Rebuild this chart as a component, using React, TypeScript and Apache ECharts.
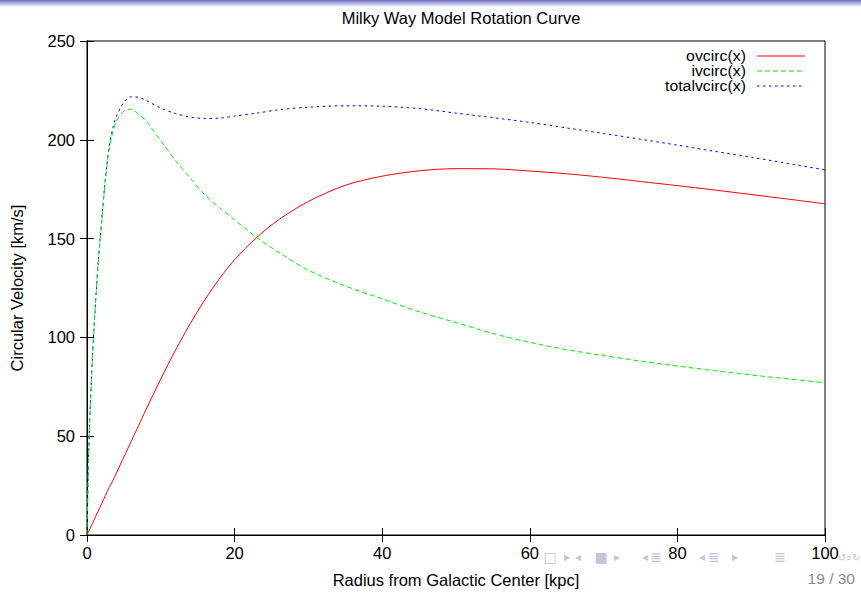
import React, { useEffect, useRef } from "react";
import * as echarts from "echarts";

const chartTitle = "Milky Way Model Rotation Curve";
const xAxisName = "Radius from Galactic Center [kpc]";
const yAxisName = "Circular Velocity [km/s]";
const seriesNames = ["ovcirc(x)", "ivcirc(x)", "totalvcirc(x)"];
const pageLabel = "19 / 30";

const radius = [0, 0.25, 0.5, 0.75, 1, 1.25, 1.5, 2, 2.5, 3, 3.5, 4, 5, 6, 7, 8, 10, 12, 14, 16, 18, 20, 23, 26, 30, 35, 40, 45, 50, 55, 60, 65, 70, 75, 80, 85, 90, 95, 100];
const ovcirc = [0, 2, 4, 6, 8, 10, 12, 16, 20, 24, 27.5, 31.5, 39.5, 47.5, 55.5, 63.5, 79, 93.6, 107, 119.2, 130, 139.3, 150.6, 159.6, 168.8, 177, 181.6, 184.3, 185.4, 185.3, 184.2, 182.8, 181, 178.9, 176.8, 174.6, 172.3, 170, 167.6];
const ivcirc = [0, 45, 70, 91, 108, 123, 137, 159, 180, 195, 204, 209.5, 214.5, 215.5, 213, 209.5, 199.5, 189.5, 180.5, 172, 165.5, 159.5, 150.5, 143, 134, 126, 119.5, 113, 107.5, 102, 97.5, 93.8, 90.8, 88, 85.5, 83.2, 81, 79, 77];
const totalvcirc = [0, 45, 70, 91, 108, 123, 137, 159.5, 181, 196.5, 206, 212, 219, 221.8, 221.5, 220, 216, 213.3, 211.5, 210.8, 211, 212, 213.5, 215.2, 216.5, 217.2, 217, 215.8, 213.5, 211.2, 208.8, 206, 203.2, 200.3, 197.3, 194.2, 191.2, 188, 184.8];

const navSymbols = [
  { t: "\u25A1", x: 550, s: 14 },
  { t: "\u25B8", x: 567, s: 12 },
  { t: "\u25C2", x: 578, s: 12 },
  { t: "\u25A0", x: 601, s: 14 },
  { t: "\u25B8", x: 617, s: 12 },
  { t: "\u25C2", x: 645, s: 12 },
  { t: "\u2263", x: 656, s: 14 },
  { t: "\u25C2", x: 702, s: 12 },
  { t: "\u2263", x: 714, s: 14 },
  { t: "\u25B8", x: 735, s: 12 },
  { t: "\u2263", x: 780, s: 14 },
  { t: "\u21BA\u2315\u21BB", x: 849, s: 10 },
];

const FONT = "Liberation Sans";
const FS = 16.5;
const LFS = 13;

export default function App() {
  const ref = useRef<HTMLDivElement>(null);
  useEffect(() => {
    if (!ref.current) return;
    const chart = echarts.init(ref.current, undefined, { renderer: "svg" });
    const mk = (vals: number[]) => radius.map((r, i) => [r, vals[i]]);
    const colors = ["#ff0000", "#00ee00", "#0000ff"];
    const dashes: any[] = ["solid", [5, 3], [2.5, 3.5]];
    const legendGraphics: any[] = [];
    seriesNames.forEach((n, i) => {
      const y = 56 + i * 15;
      legendGraphics.push({
        type: "text",
        x: 746,
        y,
        scaleX: 1.22,
        scaleY: 1.08,
        style: { text: n, fill: "#000", font: `${LFS}px '${FONT}'`, align: "right", verticalAlign: "middle" },
      });
      legendGraphics.push({
        type: "line",
        shape: { x1: 757, y1: y, x2: 805, y2: y },
        style: { stroke: colors[i], lineWidth: 1, lineDash: dashes[i] === "solid" ? null : dashes[i] },
      });
    });
    const navGraphics = navSymbols.map((s) => ({
      type: "text",
      x: s.x,
      y: 557,
      style: { text: s.t, fill: "#c4c4dc", font: `${s.s}px 'DejaVu Sans'`, align: "center", verticalAlign: "middle" },
    }));
    const axisCommon = {
      type: "value" as const,
      axisLine: { show: true, lineStyle: { color: "#000", width: 1 } },
      axisTick: { show: true, inside: true, length: 7, lineStyle: { color: "#000" } },
      splitLine: { show: false },
    };
    chart.setOption({
      animation: false,
      backgroundColor: "#fff",
      title: {
        text: chartTitle,
        left: 456,
        top: 4,
        textAlign: "center",
        textStyle: { fontFamily: FONT, fontSize: FS, fontWeight: "normal", color: "#000" },
      },
      grid: { left: 87, right: 36, top: 41, bottom: 53, show: true, borderColor: "#000", borderWidth: 1 },
      xAxis: [
        {
          ...axisCommon,
          min: 0,
          max: 100,
          interval: 20,
          name: xAxisName,
          nameLocation: "middle",
          nameGap: 36,
          nameTextStyle: { fontFamily: FONT, fontSize: FS, color: "#000" },
          axisLabel: { fontFamily: FONT, fontSize: FS, color: "#000", margin: 9 },
        },
        {
          ...axisCommon,
          position: "top",
          min: 0,
          max: 100,
          interval: 20,
          axisLabel: { show: false },
        },
      ],
      yAxis: [
        {
          ...axisCommon,
          min: 0,
          max: 250,
          interval: 50,
          name: yAxisName,
          nameLocation: "middle",
          nameGap: 62,
          nameTextStyle: { fontFamily: FONT, fontSize: FS, color: "#000" },
          axisLabel: { fontFamily: FONT, fontSize: FS, color: "#000", margin: 12 },
        },
        {
          ...axisCommon,
          position: "right",
          min: 0,
          max: 250,
          interval: 50,
          axisLabel: { show: false },
        },
      ],
      series: seriesNames.map((n, i) => ({
        name: n,
        type: "line",
        data: mk([ovcirc, ivcirc, totalvcirc][i]),
        showSymbol: false,
        symbol: "none",
        smooth: 0.3,
        lineStyle: { color: colors[i], width: 1, type: dashes[i] },
        z: 3 + (2 - i),
      })),
      graphic: [
        {
          type: "rect",
          shape: { x: 0, y: 0, width: 861, height: 7 },
          style: {
            fill: new echarts.graphic.LinearGradient(0, 0, 0, 1, [
              { offset: 0, color: "#6c6cc4" },
              { offset: 1, color: "#ffffff" },
            ]),
          },
        },
        ...legendGraphics,
        ...navGraphics,
        {
          type: "text",
          x: 855,
          y: 578,
          style: { text: pageLabel, fill: "#8a8a8a", font: `15.5px '${FONT}'`, align: "right", verticalAlign: "middle" },
        },
      ],
    });
    return () => chart.dispose();
  }, []);
  return (
    <div
      ref={ref}
      style={{ position: "fixed", left: 0, top: 0, width: 861, height: 593, background: "#fff" }}
    />
  );
}
